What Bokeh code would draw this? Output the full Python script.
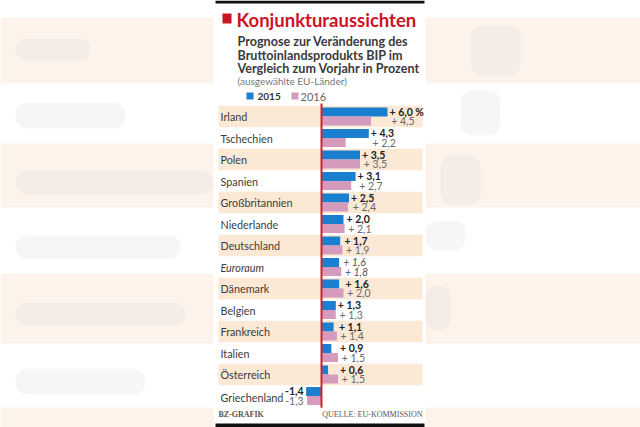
from bokeh.plotting import figure
from bokeh.models import Range1d, Label, BoxAnnotation, ColumnDataSource
from bokeh.core.properties import value
from bokeh.embed import file_html
from bokeh.resources import INLINE

# ---------------- data ----------------
countries = ["Irland", "Tschechien", "Polen", "Spanien", "Großbritannien",
             "Niederlande", "Deutschland", "Euroraum", "Dänemark", "Belgien",
             "Frankreich", "Italien", "Österreich", "Griechenland"]
v2015 = [6.0, 4.3, 3.5, 3.1, 2.5, 2.0, 1.7, 1.6, 1.6, 1.3, 1.1, 0.9, 0.6, -1.4]
v2016 = [4.5, 2.2, 3.5, 2.7, 2.4, 2.1, 1.9, 1.8, 2.0, 1.3, 1.4, 1.5, 1.5, -1.3]
series = ["2015", "2016"]
highlight = "Euroraum"

title = "Konjunkturaussichten"
subtitle = ["Prognose zur Veränderung des",
            "Bruttoinlandsprodukts BIP im",
            "Vergleich zum Vorjahr in Prozent"]
note = "(ausgewählte EU-Länder)"
credit = "BZ-GRAFIK"
source = "QUELLE: EU-KOMMISSION"

# ---------------- layout ----------------
W, H = 640, 427
X0, SX = 321.0, 11.0      # pixel of zero, pixels per percent point
Y0, SY = 116.0, 21.5      # pixel of first row centre, pixels per row

def px(x):
    return (x - X0) / SX

def py(y):
    return (y - Y0) / SY

BLUE = "#1a7fcf"
PINK = "#d59bbd"
PEACH = "#fbe8d5"
RED = "#d4202c"
TXT = "#3c3c3c"
FONT = "Lato"

p = figure(width=W, height=H, output_backend="svg", toolbar_location=None,
           x_range=Range1d(px(0), px(W)), y_range=Range1d(py(H), py(0)),
           x_axis_location=None, y_axis_location=None, min_border=0,
           background_fill_color="white", border_fill_color="white")
p.outline_line_color = None
p.grid.visible = False

# blurred background impression on both sides
for (t, b) in [(17, 83), (143, 207), (273, 343), (407, 427)]:
    for (l, r) in [(0, 213), (425, W)]:
        p.add_layout(BoxAnnotation(left=px(l), right=px(r), top=py(t), bottom=py(b),
                                   fill_color="#fdf3ea", fill_alpha=1, line_color=None,
                                   level="underlay"))
for (l, r, t, b) in [(15, 90, 38, 60), (15, 125, 102, 128), (15, 213, 170, 194),
                     (15, 180, 235, 259), (15, 185, 302, 325), (15, 145, 368, 394),
                     (470, 520, 25, 75), (460, 500, 90, 135), (440, 480, 155, 205),
                     (425, 465, 220, 250), (425, 450, 285, 330)]:
    p.add_layout(BoxAnnotation(left=px(l), right=px(r), top=py(t), bottom=py(b),
                               fill_color="#e2e2e2", fill_alpha=0.3, line_color=None,
                               border_radius=12, level="underlay"))

# black rules top and bottom
p.add_layout(BoxAnnotation(left=px(215), right=px(424), top=py(0), bottom=py(3),
                           fill_color="#111111", fill_alpha=1, line_color=None))
p.add_layout(BoxAnnotation(left=px(215), right=px(424), top=py(423), bottom=py(H),
                           fill_color="#111111", fill_alpha=1, line_color=None))

n = len(countries)
rows = list(range(n))

# stripes
stripe_rows = [i for i in rows if i % 2 == 0]
p.hbar(y=stripe_rows, left=px(218), right=px(422), height=1.0,
       fill_color=PEACH, line_color=None)

# bars
BH = 0.42
p.hbar(y=[i - BH / 2 for i in rows], left=0, right=v2015, height=BH,
       fill_color=BLUE, line_color=None)
p.hbar(y=[i + BH / 2 for i in rows], left=0, right=v2016, height=BH,
       fill_color=PINK, line_color=None)

# zero line
p.segment(x0=[0], x1=[0], y0=[-0.6], y1=[n - 0.45], line_color=RED, line_width=2)

# country labels
norm_c = [c for c in countries if c != highlight]
norm_y = [i + (0.08 if c == countries[-1] else 0) for i, c in enumerate(countries) if c != highlight]
hi_y = [i for i, c in enumerate(countries) if c == highlight]
p.text(x=px(220), y=norm_y, text=norm_c, text_font=value(FONT), text_font_size="10.8px",
       text_color=TXT, text_baseline="middle", text_align="left")
p.text(x=px(220), y=hi_y, text=[highlight], text_font=value(FONT), text_font_size="10.8px",
       text_font_style="italic", text_color=TXT, text_baseline="middle", text_align="left")

# value labels
def fmt(v):
    s = f"{abs(v):.1f}".replace(".", ",")
    return ("+ " + s) if v >= 0 else ("-" + s)

gap = 2.0 / SX
ngap = 2.5 / SX
lab = {k: {"x": [], "y": [], "t": [], "align": []} for k in ["b", "n", "ib", "in"]}
for i, c in enumerate(countries):
    a, b = v2015[i], v2016[i]
    if max(a, b) >= 0:
        x = max(a, b, 0) + gap
        x2 = x + 0.15
        al = "left"
    else:
        x = min(a, b) - ngap
        x2 = x
        al = "right"
    t15 = fmt(a) + (" %" if i == 0 else "")
    t16 = fmt(b)
    k1, k2 = ("ib", "in") if c == highlight else ("b", "n")
    lab[k1]["x"].append(x); lab[k1]["y"].append(i - BH / 2); lab[k1]["t"].append(t15); lab[k1]["align"].append(al)
    lab[k2]["x"].append(x2); lab[k2]["y"].append(i + BH / 2 + 0.02); lab[k2]["t"].append(t16); lab[k2]["align"].append(al)

styles = {"b": ("bold", "#222222"), "n": ("normal", "#6a6a6a"),
          "ib": ("italic", "#555555"), "in": ("italic", "#555555")}
for k, (st, col) in styles.items():
    d = lab[k]
    if not d["x"]:
        continue
    src = ColumnDataSource(dict(x=d["x"], y=d["y"], t=d["t"], align=d["align"]))
    p.text(x="x", y="y", text="t", source=src, text_font=value(FONT),
           text_font_size="10.5px", text_font_style=st, text_color=col,
           text_baseline="middle", text_align="align")

# title block
p.add_layout(BoxAnnotation(left=px(222), right=px(231), top=py(13), bottom=py(23),
                           fill_color="#cc1424", fill_alpha=1, line_color=None))
p.add_layout(Label(x=px(236), y=py(19), text=title, text_font=FONT, text_font_size="18.5px",
                   text_font_style="bold", text_color="#cc1424", text_baseline="middle"))
for j, line in enumerate(subtitle):
    p.add_layout(Label(x=px(237), y=py(41 + 13.5 * j), text=line, text_font=FONT,
                       text_font_size="12.6px", text_font_style="bold", text_color="#3a3a3a",
                       text_baseline="middle"))
p.add_layout(Label(x=px(237), y=py(80), text=note, text_font=FONT, text_font_size="10px",
                   text_color="#777777", text_baseline="middle"))

# legend
p.add_layout(BoxAnnotation(left=px(246), right=px(253), top=py(92), bottom=py(99),
                           fill_color=BLUE, fill_alpha=1, line_color=None))
p.add_layout(Label(x=px(257), y=py(96), text=series[0], text_font=FONT, text_font_size="10px",
                   text_font_style="bold", text_color="#333333", text_baseline="middle"))
p.add_layout(BoxAnnotation(left=px(291), right=px(298), top=py(92), bottom=py(99),
                           fill_color=PINK, fill_alpha=1, line_color=None))
p.add_layout(Label(x=px(300), y=py(96), text=series[1], text_font=FONT, text_font_size="11px",
                   text_color="#666666", text_baseline="middle"))

# footer
p.add_layout(Label(x=px(218), y=py(414), text=credit, text_font="Liberation Serif",
                   text_font_size="8px", text_font_style="bold", text_color="#555555",
                   text_baseline="middle"))
p.add_layout(Label(x=px(422), y=py(414), text=source, text_font="Liberation Serif",
                   text_font_size="8px", text_color="#555555", text_baseline="middle",
                   text_align="right"))

open("out.html", "w").write(file_html(p, INLINE))
